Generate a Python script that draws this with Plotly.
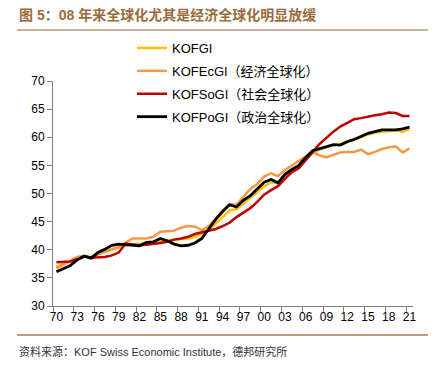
import plotly.graph_objects as go

years = list(range(1970, 2022))

kofgi = [37.0, 37.5, 38.0, 38.5, 38.8, 38.7, 39.2, 39.6, 40.0, 40.3,
         40.8, 40.9, 41.0, 41.2, 41.4, 41.6, 41.7, 41.8, 41.9, 42.0,
         42.3, 42.8, 43.5, 44.6, 45.8, 47.0, 47.2, 48.2, 49.2, 50.2,
         51.3, 52.0, 51.8, 52.9, 53.8, 54.6, 56.0, 57.2, 57.8, 58.2,
         58.6, 58.8, 59.3, 59.7, 60.0, 60.5, 60.8, 61.0, 61.1, 61.2,
         61.0, 61.4]

kofecgi = [36.7, 37.4, 38.1, 38.7, 38.9, 38.6, 39.2, 39.7, 40.1, 40.5,
           41.2, 42.0, 42.0, 42.0, 42.3, 43.2, 43.3, 43.4, 43.9, 44.2,
           44.1, 43.5, 44.2, 45.5, 47.0, 48.1, 48.0, 49.5, 50.8, 51.7,
           53.0, 53.6, 53.1, 54.2, 55.0, 55.8, 56.6, 57.4, 56.8, 56.4,
           56.9, 57.3, 57.4, 57.4, 57.8, 57.0, 57.4, 57.9, 58.2, 58.4,
           57.3, 58.0]

kofsogi = [37.8, 37.9, 37.9, 38.3, 38.8, 38.6, 38.6, 38.7, 39.0, 39.5,
           41.1, 40.9, 40.8, 40.9, 41.0, 41.2, 41.4, 41.8, 42.0, 42.3,
           42.8, 43.1, 43.3, 43.7, 44.2, 44.8, 45.8, 46.6, 47.4, 48.5,
           49.8, 50.6, 51.3, 52.6, 53.8, 54.5, 56.0, 57.5, 58.8, 59.9,
           61.0, 61.9, 62.6, 63.2, 63.4, 63.7, 63.9, 64.1, 64.4, 64.3,
           63.8, 63.8]

kofpogi = [36.1, 36.6, 37.2, 38.2, 38.9, 38.5, 39.5, 40.1, 40.8, 41.0,
           40.9, 40.8, 40.7, 41.3, 41.4, 42.0, 41.6, 41.0, 40.7, 40.8,
           41.2, 42.0, 43.8, 45.4, 46.8, 48.0, 47.6, 48.8, 49.6, 50.8,
           52.0, 52.5, 51.9, 53.4, 54.3, 55.0, 56.4, 57.6, 58.0, 58.4,
           58.7, 58.6, 59.2, 59.6, 60.1, 60.7, 61.0, 61.3, 61.3, 61.3,
           61.5, 61.8]

series_names = ["KOFGI", "KOFEcGI（经济全球化）", "KOFSoGI（社会全球化）", "KOFPoGI（政治全球化）"]
series_colors = ["#FFC000", "#F79646", "#C00000", "#000000"]
series_widths = [2.5, 2.5, 2.5, 2.8]
series_values = [kofgi, kofecgi, kofsogi, kofpogi]

label_years = list(range(1970, 2022, 3))
label_text = [str(y)[2:] for y in label_years]
boundary_ticks = [y - 0.5 for y in label_years]

title_text = "图 5：08 年来全球化尤其是经济全球化明显放缓"
source_text = "资料来源：KOF Swiss Economic Institute，德邦研究所"

FONT = "Liberation Sans, Arial, Noto Sans CJK SC, sans-serif"

fig = go.Figure()
for name, color, w, vals in zip(series_names, series_colors, series_widths, series_values):
    fig.add_trace(go.Scatter(x=years, y=vals, mode="lines", name=name,
                             legendgroup=name,
                             line=dict(color=color, width=w)))

# page body margin offsets the figure by 8px; work in figure coordinates
OFF = 8
W, H = 436 - OFF, 375 - OFF
L, R, T, B = 53 - OFF, 413 - OFF, 81 - OFF, 306 - OFF
pw, ph = R - L, B - T

def px(x):
    return (x - OFF - L) / pw

def py(y):
    return (B - (y - OFF)) / ph

fig.update_layout(
    width=W, height=H,
    margin=dict(l=L, r=W - R, t=T, b=H - B, autoexpand=False),
    paper_bgcolor="white", plot_bgcolor="white",
    font=dict(family=FONT, color="#000000", size=12),
    showlegend=True,
    legend=dict(x=px(132), y=py(33), xanchor="left", yanchor="top",
                bgcolor="rgba(0,0,0,0)", borderwidth=0,
                font=dict(size=13, color="#000000", family=FONT),
                tracegroupgap=3),
    xaxis=dict(range=[1969.5, 2021.5], tickmode="array", tickvals=label_years,
               ticktext=label_text, ticks="", showgrid=False, zeroline=False,
               showline=True, linecolor="#7f7f7f", linewidth=1,
               tickfont=dict(size=12, color="#000000"),
               minor=dict(tickmode="array", tickvals=boundary_ticks, ticks="outside",
                          ticklen=5, tickcolor="#7f7f7f", tickwidth=1, showgrid=False)),
    yaxis=dict(range=[30, 70], dtick=5, tick0=30, ticks="outside", ticklen=5,
               tickcolor="#7f7f7f", showgrid=False, zeroline=False,
               showline=True, linecolor="#7f7f7f", linewidth=1,
               tickfont=dict(size=12, color="#000000")),
)

fig.add_annotation(x=px(17), y=py(15), xref="paper", yref="paper",
                   text="<b>" + title_text + "</b>", showarrow=False,
                   xanchor="left", yanchor="middle",
                   font=dict(size=14, color="#9C6B3C", family=FONT))
fig.add_shape(type="line", xref="paper", yref="paper",
              x0=px(17), x1=px(432), y0=py(30), y1=py(30),
              line=dict(color="#B89878", width=1.5))
fig.add_shape(type="line", xref="paper", yref="paper",
              x0=px(17), x1=px(432), y0=py(335), y1=py(335),
              line=dict(color="#A87C50", width=1.5))
fig.add_annotation(x=px(17), y=py(351), xref="paper", yref="paper",
                   text=source_text, showarrow=False,
                   xanchor="left", yanchor="middle",
                   font=dict(size=11, color="#333333", family=FONT))

fig.write_html("out.html")
